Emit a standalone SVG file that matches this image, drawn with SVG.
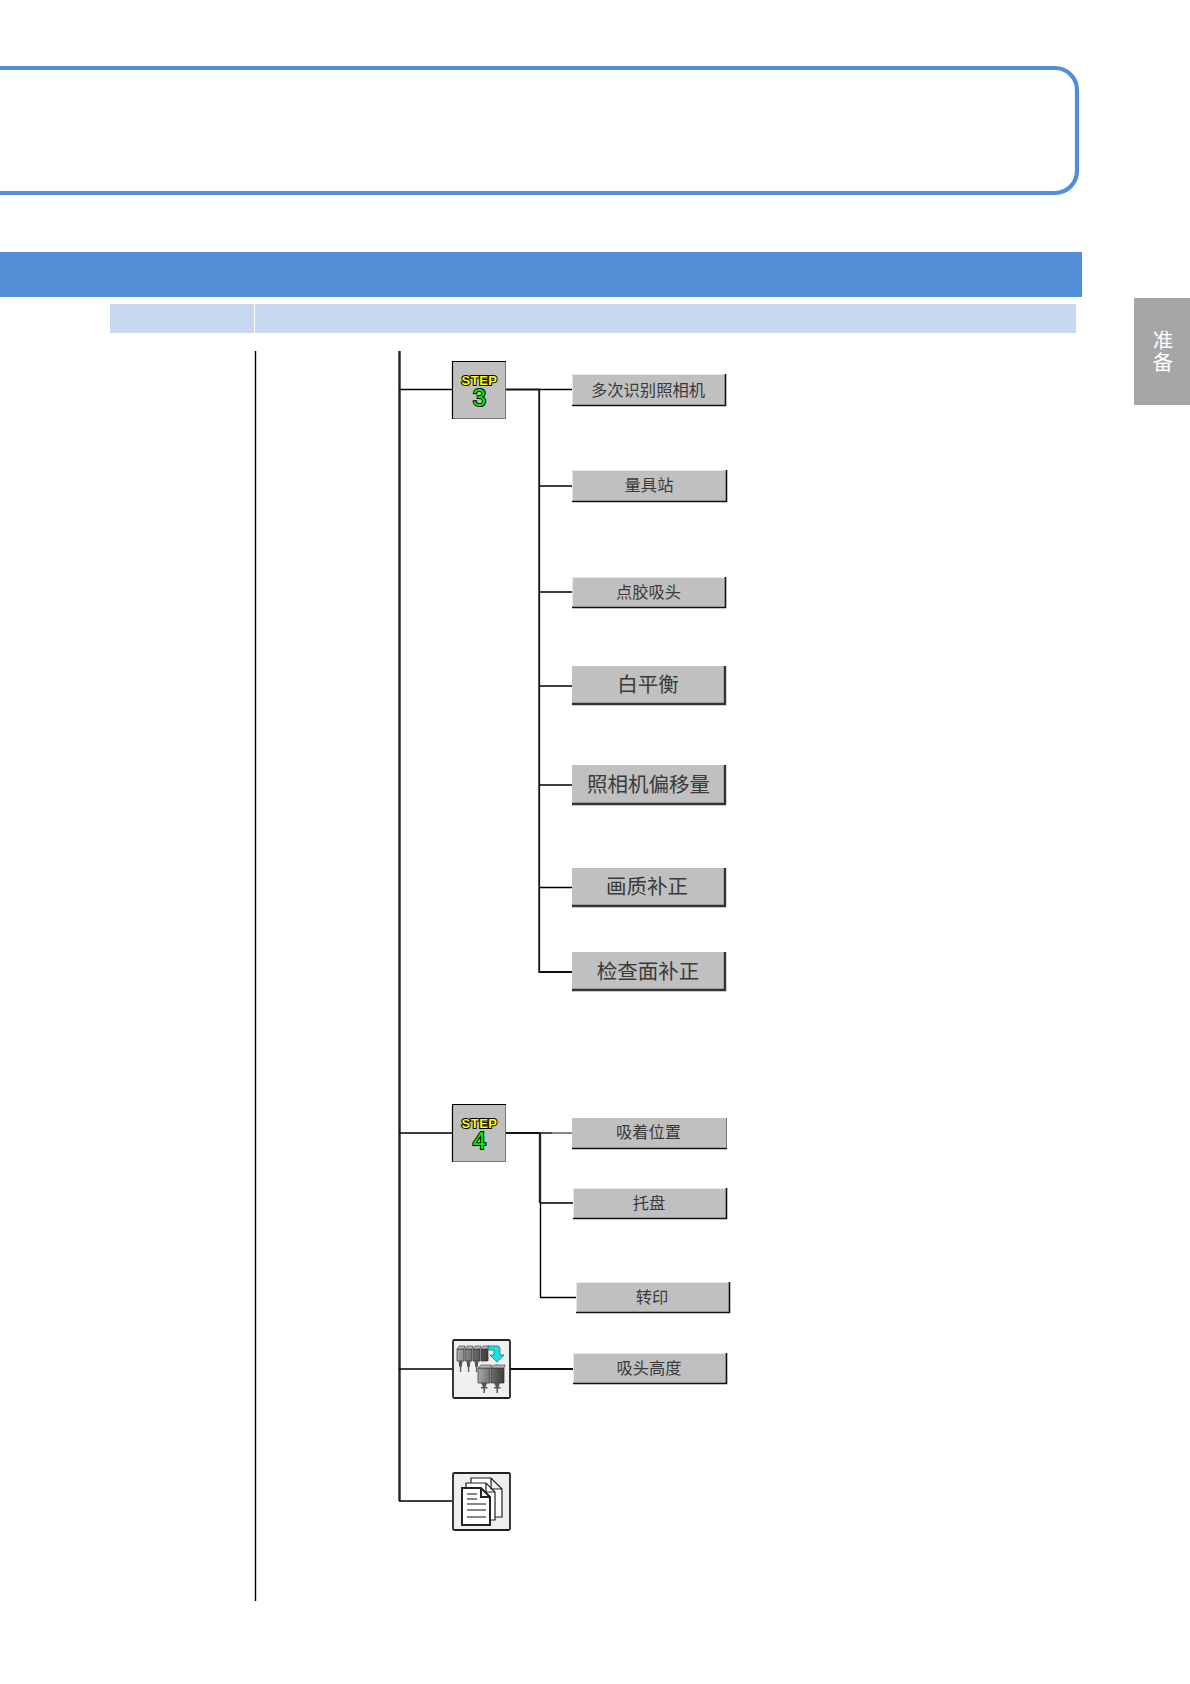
<svg xmlns="http://www.w3.org/2000/svg" width="1190" height="1684" viewBox="0 0 1190 1684">
<style>
.wire{fill:none;stroke:#000;stroke-width:1.4}
.trunk{fill:none;stroke:#111;stroke-width:1.8}
.main{fill:none;stroke:#222;stroke-width:2.4}
.btn{fill:#c0c0c0}
.hi{fill:none;stroke:#e8e8e8;stroke-width:1}
.lo{fill:none;stroke:#111;stroke-width:1.6}
.lo2{fill:none;stroke:#333;stroke-width:2.4}
.lab{font-family:"Noto Sans CJK SC","Liberation Sans",sans-serif;fill:#3a3a3a;text-anchor:middle}
.s16{font-size:16.3px}.s20{font-size:20.5px}
.box{fill:#c0c0c0;stroke:#777}
.tl{fill:none;stroke:#000;stroke-width:1.2}
.step{font-family:"Liberation Sans",sans-serif;text-anchor:middle;stroke:#000;stroke-width:2;paint-order:stroke}
.st{font-size:13px;fill:#ff0;font-weight:bold;letter-spacing:.5px}
.num{font-size:24px;fill:#0e0}
.icon{fill:#efefef;stroke:#222;stroke-width:1.8}
.head{fill:url(#metal);stroke:#333;stroke-width:.7}
.cap{fill:#b8b8b8;stroke:#333;stroke-width:.6}
.noz{fill:#555}
.page{fill:#fff;stroke:#222;stroke-width:1.2}
.front{fill:#fff;stroke:#222;stroke-width:2}
.ln{stroke:#888;stroke-width:2;fill:none}
</style>
<defs>
<linearGradient id="metal" x1="0" y1="0" x2="1" y2="0"><stop offset="0" stop-color="#a8a8a8"/><stop offset=".5" stop-color="#6e6e6e"/><stop offset="1" stop-color="#3c3c3c"/></linearGradient>
</defs>
<rect width="1190" height="1684" fill="#fff"/>
<g id="frame"><path d="M-5 68H1055a22 22 0 0 1 22 22V171a22 22 0 0 1 -22 22H-5" fill="none" stroke="#518ed6" stroke-width="4.2"/></g>
<g id="header">
<rect x="0" y="252" width="1082" height="45" fill="#518ed6"/>
<rect x="110" y="304" width="144" height="29" fill="#c7d9f0"/>
<rect x="255" y="304" width="821" height="29" fill="#c7d9f0"/>
</g>
<g id="tab"><rect x="1134" y="298" width="56" height="107" fill="#a6a6a6"/>
<text x="1163" y="351.500" font-size="20.500" fill="#fff" text-anchor="middle" letter-spacing="1.500" style="writing-mode:vertical-rl" font-family="Noto Sans CJK SC,sans-serif">准备</text></g>
<g id="connectors">
<path class="wire" d="M255.500 351V1601"/>
<path class="main" d="M399.500 351V1501"/>
<path class="wire" d="M399 1501H452M399 389.500H452M399 1133H452M399 1369H453"/>
<path class="trunk" d="M506 389.500H540"/>
<path class="wire" d="M540 389.500H572M539 486H572M539 592H572M539 686H572M539 785H572M539 887.500H572"/>
<path class="trunk" d="M539.200 389.500V972H572"/>
<path class="trunk" d="M506 1133H540"/>
<path class="wire" d="M540 1133H552"/>
<path fill="none" stroke="#555" stroke-width="1.400" d="M552 1133H572"/>
<path fill="none" stroke="#222" stroke-width="2.400" d="M540 1133V1203"/>
<path class="wire" d="M540 1203H573M540.500 1203V1297.500H576"/>
<path class="trunk" d="M510 1369H573"/>
</g>
<g id="step3"><rect class="box" x="452.500" y="361.500" width="53" height="57"/><path class="tl" d="M452.500 419V361.500H506"/>
<text class="step"><tspan class="st" x="479.500" y="385">STEP</tspan><tspan class="num" x="479.500" y="405.500">3</tspan></text></g>
<g id="step4"><rect class="box" x="452.500" y="1104.500" width="53" height="57"/><path class="tl" d="M452.500 1162V1104.500H506"/>
<text class="step"><tspan class="st" x="479.500" y="1128">STEP</tspan><tspan class="num" x="479.500" y="1148.500">4</tspan></text></g>
<g id="nozzle-icon"><rect class="icon" x="453" y="1340" width="57" height="58" rx="1.500"/>
<path class="head" d="M457 1349h7v12h-7zM465 1349h7v12h-7zM473 1349h7v12h-7zM481 1349h7v12h-7z"/>
<path class="cap" d="M457 1349l2-3h6l-1 3zM465 1349l2-3h6l-1 3zM473 1349l2-3h6l-1 3zM481 1349l2-3h6l-1 3z"/>
<path class="noz" d="M458.500 1361h4l-.8 6h-.5v5h-1.300v-5h-.600zM466.500 1361h4l-.8 6h-.5v5h-1.300v-5h-.600zM474.500 1361h4l-.8 6h-.5v5h-1.300v-5h-.600z"/>
<path class="head" d="M478 1368h12v15h-12zM491 1368h13v15h-13z"/>
<path class="cap" d="M478 1368l3-3h11l-2 3zM491 1368l3-3h11l-1 3z"/>
<path class="noz" d="M481 1383h6l-1.500 4h2v1.500h-2.500v4.500h-1.500v-4.500h-2.500v-1.500h2zM494 1383h6l-1.500 4h2v1.500h-2.500v4.500h-1.500v-4.500h-2.500v-1.500h2z"/>
<path d="M488 1346h9a3 3 0 0 1 3 3v6h4l-7 7-7-7h4v-5h-6z" fill="#1ee0e8" stroke="#067" stroke-width=".7"/></g>
<g id="pages-icon"><rect class="icon" x="453" y="1473" width="57" height="57" rx="1.500"/>
<path class="page" d="M471 1478h20l11 11v28h-31zM491 1478v11h11"/><path class="page" d="M466 1483h20l9 9v28h-29zM486 1483v9h9"/><path class="front" d="M462 1488h19l9 9v28h-28zM481 1488v9h9"/>
<path class="ln" d="M467 1494h10M467 1499h10M467 1504h19M467 1510h19M467 1517h19"/></g>
<g id="b1"><rect class="btn" x="572" y="374" width="153" height="32"/><path class="hi" d="M572.500 406V374.500H725"/><path class="lo" d="M572 405.500H725.500V374"/><text class="lab s16" x="648" y="395.500">多次识别照相机</text></g>
<g id="b2"><rect class="btn" x="572" y="470" width="154" height="32"/><path class="hi" d="M572.500 502V470.500H726"/><path class="lo" d="M572 501.500H726.500V470"/><text class="lab s16" x="649" y="491">量具站</text></g>
<g id="b3"><rect class="btn" x="572" y="577" width="153" height="31"/><path class="hi" d="M572.500 608V577.500H725"/><path class="lo" d="M572 607.500H725.500V577"/><text class="lab s16" x="648.500" y="597.500">点胶吸头</text></g>
<g id="b4"><rect class="btn" x="572" y="666" width="153" height="39"/><path class="lo2" d="M572 704H725V666"/><text class="lab s20" x="648" y="691.500">白平衡</text></g>
<g id="b5"><rect class="btn" x="572" y="765" width="153" height="40"/><path class="lo2" d="M572 804H725V765"/><text class="lab s20" x="648.500" y="792">照相机偏移量</text></g>
<g id="b6"><rect class="btn" x="572" y="868" width="153" height="39"/><path class="lo2" d="M572 906H725V868"/><text class="lab s20" x="647" y="894">画质补正</text></g>
<g id="b7"><rect class="btn" x="572" y="952" width="153" height="39"/><path class="lo2" d="M572 990H725V952"/><text class="lab s20" x="648" y="979">检查面补正</text></g>
<g id="b8"><rect class="btn" x="572" y="1118" width="155" height="31"/><path class="lo" d="M572 1148.500H727" /><path fill="none" stroke="#777" d="M726.500 1148V1118"/><text class="lab s16" x="648.500" y="1138">吸着位置</text></g>
<g id="b9"><rect class="btn" x="573" y="1188" width="154" height="31"/><path class="hi" d="M573.500 1219V1188.500H727"/><path class="lo" d="M573 1218.500H726.500V1188"/><text class="lab s16" x="649" y="1209">托盘</text></g>
<g id="b10"><rect class="btn" x="576" y="1282" width="154" height="31"/><path class="hi" d="M576.500 1313V1282.500H730"/><path class="lo" d="M576 1312.500H729.500V1282"/><text class="lab s16" x="652" y="1303">转印</text></g>
<g id="b11"><rect class="btn" x="573" y="1353" width="154" height="31"/><path class="hi" d="M573.500 1384V1353.500H727"/><path class="lo" d="M573 1383.500H726.500V1353"/><text class="lab s16" x="649" y="1374">吸头高度</text></g>
</svg>
